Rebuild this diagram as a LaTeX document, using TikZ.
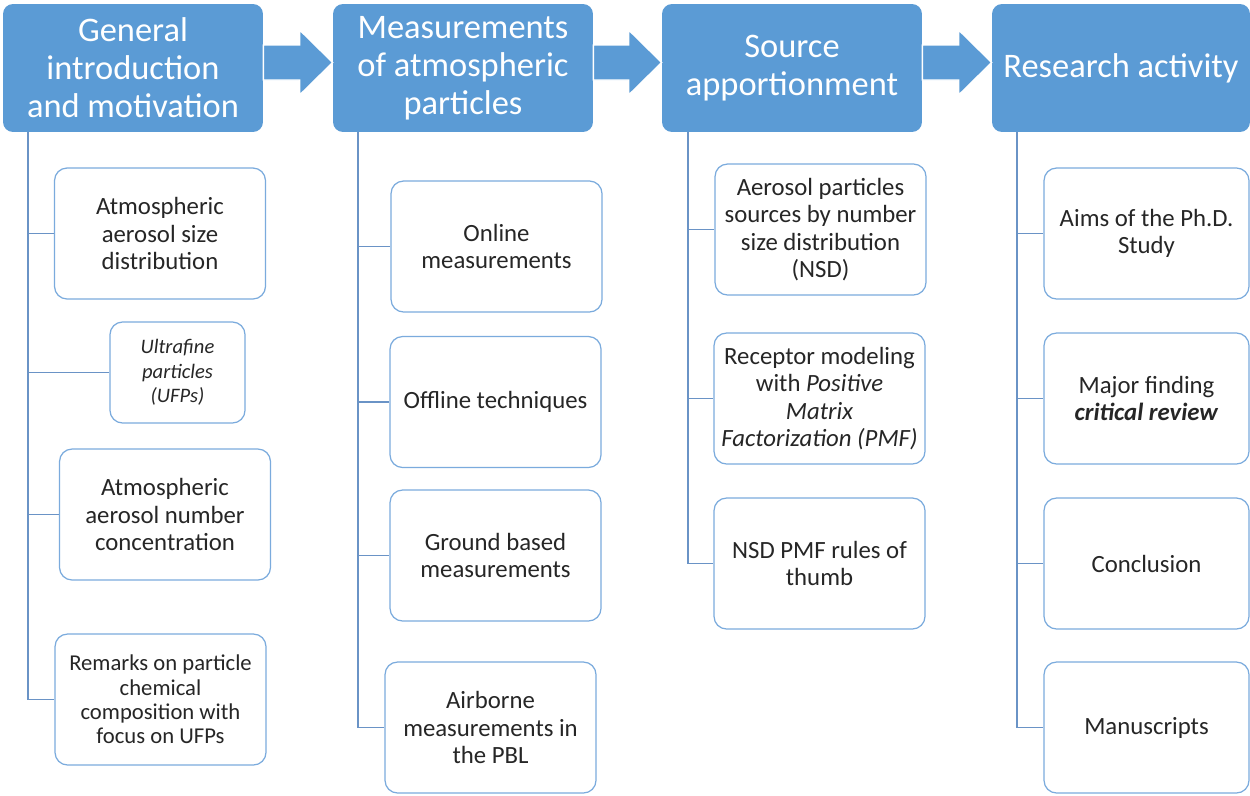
\documentclass[tikz,border=0pt]{standalone}
\usepackage{fontspec}
\setmainfont{Carlito}
\usetikzlibrary{calc}

\definecolor{hdrblue}{HTML}{5B9BD5}
\definecolor{boxline}{HTML}{7BABDD}
\definecolor{trunkline}{HTML}{6A93C6}
\definecolor{boxtext}{HTML}{262626}

\tikzset{
  header/.style={fill=hdrblue, text=white, rounded corners=0.2cm,
    minimum width=5.2cm, minimum height=2.56cm, align=center,
    font=\fontsize{19.6}{21.6}\selectfont},
  item/.style={draw=boxline, line width=0.7pt, fill=white, rounded corners=0.25cm,
    minimum width=4.22cm, minimum height=2.62cm, align=center, text=boxtext,
    font=\fontsize{14.1}{15.6}\selectfont},
  smalltext/.style={font=\fontsize{11.7}{13.9}\selectfont},
  remarktext/.style={font=\fontsize{12.9}{13.9}\selectfont},
  trunk/.style={draw=trunkline, line width=0.85pt},
  flow/.style={fill=hdrblue, draw=white, line width=0.8pt},
}

\begin{document}
\begin{tikzpicture}[x=0.02cm, y=-0.02cm]
    \useasboundingbox (0,0) rectangle (1250,795);

    % Chapter headers
    \node[header] (h1) at (133,68) {General\\introduction\\and motivation};
    \node[header] (h2) at (463,68) {Measurements\\of atmospheric\\particles};
    \node[header] (h3) at (792,68) {Source\\apportionment};
    \node[header, minimum width=5.16cm] (h4) at (1121,68) {Research activity};

    % Block arrows between headers
    \foreach \a/\b in {h1/h2, h2/h3, h3/h4} {
        \filldraw[flow] ($(\a.east)+(0,-23)$) -- ($(\b.west)+(-33,-23)$)
            -- ($(\b.west)+(-33,-38)$) -- ($(\b.west)+(0,-5.5)$)
            -- ($(\b.west)+(-33,27)$) -- ($(\b.west)+(-33,12)$)
            -- ($(\a.east)+(0,12)$) -- cycle;
    }

    % Column 1
    \node[item] (a1) at (160,233.5) {Atmospheric\\aerosol size\\distribution};
    \node[item, smalltext, minimum width=2.7cm, minimum height=2.02cm] (a2) at (177.5,372.5)
        {\textit{Ultrafine}\\\textit{particles}\\\textit{(UFPs)}};
    \node[item] (a3) at (165,514.5) {Atmospheric\\aerosol number\\concentration};
    \node[item, remarktext] (a4) at (160.5,699.5) {Remarks on particle\\chemical\\composition with\\focus on UFPs};

    % Column 2
    \node[item] (b1) at (496.5,246.5) {Online\\measurements};
    \node[item] (b2) at (495.5,402) {Offline techniques};
    \node[item] (b3) at (495.5,555.5) {Ground based\\measurements};
    \node[item] (b4) at (490.5,727.5) {Airborne\\measurements in\\the PBL};

    % Column 3
    \node[item] (c1) at (820.5,229.5) {Aerosol particles\\sources by number\\size distribution\\(NSD)};
    \node[item] (c2) at (819.5,398.5) {Receptor modeling\\with \textit{Positive}\\\textit{Matrix}\\\textit{Factorization (PMF)}};
    \node[item] (c3) at (819.5,563.5) {NSD PMF rules of\\thumb};

    % Column 4
    \node[item, minimum width=4.1cm] (d1) at (1146.5,233.5) {Aims of the Ph.D.\\Study};
    \node[item, minimum width=4.1cm] (d2) at (1146.5,398.5) {Major finding\\\textbf{\textit{critical review}}};
    \node[item, minimum width=4.1cm] (d3) at (1146.5,563.5) {Conclusion};
    \node[item, minimum width=4.1cm] (d4) at (1146.5,727.5) {Manuscripts};

    % Trunks and branches
    \coordinate (t1) at (28,132);
    \coordinate (t2) at (358,132);
    \coordinate (t3) at (688,132);
    \coordinate (t4) at (1017,132);
    \draw[trunk] (t1) |- (a4.west);
    \draw[trunk] (t2) |- (b4.west);
    \draw[trunk] (t3) |- (c3.west);
    \draw[trunk] (t4) |- (d4.west);
    \foreach \n/\t in {a1/t1, a2/t1, a3/t1, b1/t2, b2/t2, b3/t2, c1/t3, c2/t3, d1/t4, d2/t4, d3/t4} {
        \draw[trunk] (\n.west -| \t) -- (\n.west);
    }
\end{tikzpicture}
\end{document}
